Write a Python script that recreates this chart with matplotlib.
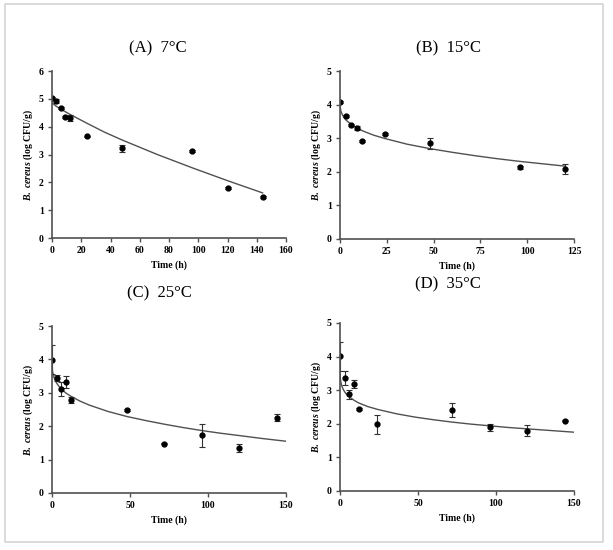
import matplotlib
matplotlib.use('Agg')
import matplotlib.pyplot as plt
from matplotlib.patches import Rectangle

plt.rcParams['font.family'] = ['Liberation Serif', 'DejaVu Serif']
plt.rcParams['mathtext.fontset'] = 'custom'
plt.rcParams['mathtext.it'] = 'Liberation Serif:italic:bold'
plt.rcParams['mathtext.rm'] = 'Liberation Serif:bold'

# observed counts (log CFU/g) and standard deviations
time_a = [0, 3, 6, 9, 12, 24, 48, 96, 120, 144]
count_a = [5.03, 4.92, 4.66, 4.35, 4.32, 3.65, 3.22, 3.13, 1.79, 1.48]
err_a = [0.03, 0.07, 0.04, 0.03, 0.1, 0.03, 0.12, 0.04, 0.03, 0.03]

time_b = [0, 3, 6, 9, 12, 24, 48, 96, 120]
count_b = [4.09, 3.66, 3.40, 3.29, 2.91, 3.13, 2.85, 2.13, 2.07]
err_b = [0.03, 0.03, 0.03, 0.06, 0.03, 0.03, 0.17, 0.05, 0.15]

time_c = [0, 3, 6, 9, 12, 48, 72, 96, 120, 144]
count_c = [3.99, 3.44, 3.11, 3.31, 2.78, 2.49, 1.48, 1.73, 1.35, 2.26]
err_c = [0.43, 0.08, 0.21, 0.18, 0.1, 0.02, 0.02, 0.34, 0.12, 0.1]

time_d = [0, 3, 6, 9, 12, 24, 72, 96, 120, 144]
count_d = [4.01, 3.35, 2.88, 3.18, 2.44, 1.99, 2.42, 1.89, 1.80, 2.09]
err_d = [0.43, 0.21, 0.14, 0.12, 0.04, 0.28, 0.21, 0.11, 0.17, 0.02]

# fitted model curves
fit_t_a = [0, 3, 6, 12, 24, 36, 48, 72, 96, 120, 144]
fit_a = [4.85, 4.73, 4.63, 4.45, 4.12, 3.80, 3.52, 3.00, 2.52, 2.06, 1.62]

fit_t_b = [0, 0.25, 0.5, 1, 2, 3, 4, 6, 9, 12, 18, 24, 36, 48, 60, 72, 84, 96, 108, 120]
fit_b = [4.10, 3.87, 3.80, 3.73, 3.63, 3.55, 3.50, 3.41, 3.31, 3.22, 3.09, 2.99,
         2.82, 2.69, 2.58, 2.48, 2.39, 2.31, 2.24, 2.17]

fit_t_c = [0, 0.25, 0.5, 1, 2, 3, 4, 6, 9, 12, 18, 24, 36, 48, 60, 72, 84, 96,
           108, 120, 135, 150]
fit_c = [4.00, 3.68, 3.60, 3.50, 3.37, 3.29, 3.22, 3.11, 2.99, 2.90, 2.75, 2.63,
         2.44, 2.29, 2.17, 2.06, 1.96, 1.87, 1.79, 1.72, 1.63, 1.55]

fit_t_d = [0, 0.02, 0.1, 0.25, 0.5, 1, 2, 3, 4, 6, 9, 12, 18, 24, 36, 48, 60, 72,
           84, 96, 108, 120, 135, 150]
fit_d = [4.00, 3.61, 3.46, 3.35, 3.26, 3.15, 3.03, 2.95, 2.89, 2.80, 2.70, 2.62,
         2.51, 2.43, 2.30, 2.20, 2.12, 2.05, 1.99, 1.94, 1.89, 1.85, 1.80, 1.75]

panels = [
    ('(A)  7°C', time_a, count_a, err_a, fit_t_a, fit_a, 160, range(0, 161, 20), 6),
    ('(B)  15°C', time_b, count_b, err_b, fit_t_b, fit_b, 125, range(0, 126, 25), 5),
    ('(C)  25°C', time_c, count_c, err_c, fit_t_c, fit_c, 150, range(0, 151, 50), 5),
    ('(D)  35°C', time_d, count_d, err_d, fit_t_d, fit_d, 150, range(0, 151, 50), 5),
]

# axes boxes in pixels: left, top, right, bottom
boxes = [(52, 71, 286, 238), (340, 71, 574, 239), (52, 326, 286, 493), (340, 323, 574, 491)]
title_pos = [(158, 48), (448, 48), (159, 293), (448, 284)]

W, H = 613, 550
fig = plt.figure(figsize=(W / 100, H / 100), dpi=100)
fig.patches.append(Rectangle((5 / W, 1 - 542 / H), 598 / W, 538 / H, transform=fig.transFigure,
                             fill=False, edgecolor='#d4d4d4', linewidth=1.2))

for (title, t, y, e, ft, fy, xmax, xt, ymax), (l, tp, r, b), (tx, ty) in zip(panels, boxes, title_pos):
    ax = fig.add_axes([l / W, 1 - b / H, (r - l) / W, (b - tp) / H])
    ax.plot(ft, fy, color='#505050', linewidth=1.0)
    ax.errorbar(t, y, yerr=e, fmt='o', color='black', markersize=3.5,
                ecolor='#303030', elinewidth=0.8, capsize=2.4, capthick=0.8)
    ax.set_xlim(0, xmax)
    ax.set_ylim(0, ymax)
    ax.set_xticks(list(xt))
    ax.set_yticks(range(0, ymax + 1))
    for s in ['top', 'right']:
        ax.spines[s].set_visible(False)
    for s in ['left', 'bottom']:
        ax.spines[s].set_color('#505050')
        ax.spines[s].set_linewidth(1.2)
    ax.tick_params(direction='out', length=3, width=1, color='#505050', labelsize=7, pad=3)
    for lab in ax.get_xticklabels() + ax.get_yticklabels():
        lab.set_fontweight('bold')
    ax.set_xlabel('Time (h)', fontsize=7, fontweight='bold', labelpad=4)
    ax.set_ylabel(r'$\it{B.\ cereus}$ (log CFU/g)', fontsize=7, fontweight='bold', labelpad=3)
    fig.text(tx / W, 1 - ty / H, title, fontsize=12, ha='center', va='center')

fig.savefig('out.png', dpi=100)
